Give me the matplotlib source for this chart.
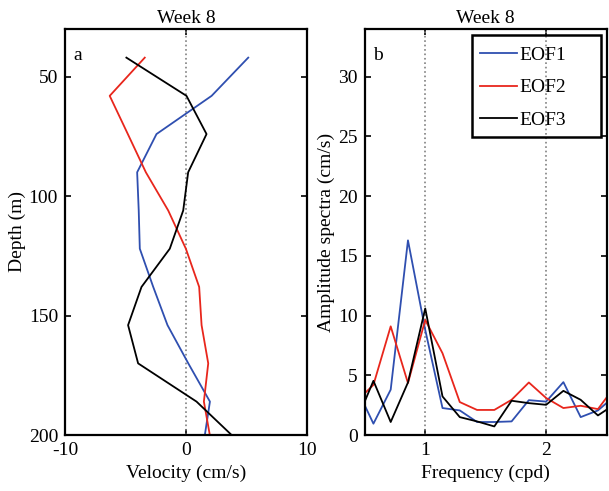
import numpy as np
import matplotlib
matplotlib.use('Agg')
from matplotlib import pyplot as plt
from matplotlib.patches import Rectangle

plt.rcParams['font.family'] = 'Liberation Serif'
plt.rcParams['font.size'] = 14
plt.rcParams['axes.unicode_minus'] = False

# profiles (panel a)
depth = [42, 58, 74, 90, 106, 122, 138, 154, 170, 186, 202]
eof1_v = [5.16, 2.13, -2.43, -4.03, -3.9, -3.81, -2.7, -1.52, 0.2, 1.99, 1.51]
eof2_v = [-3.4, -6.3, -4.8, -3.31, -1.46, 0.0, 1.1, 1.3, 1.85, 1.49, 2.05]
eof3_v = [-4.92, 0.05, 1.71, 0.19, -0.22, -1.33, -3.67, -4.78, -3.95, 0.88, 4.2]

# spectra (panel b), frequency k/7 cpd
freq = np.arange(3, 19) / 7.0
eof1_s = [4.0, 0.95, 3.8, 16.3, 8.8, 2.26, 2.06, 1.09, 1.09, 1.14, 2.92, 2.8, 4.43, 1.5, 2.06, 3.3]
eof2_s = [2.8, 4.2, 9.1, 4.35, 9.64, 6.85, 2.76, 2.1, 2.1, 2.95, 4.4, 3.1, 2.26, 2.45, 2.17, 4.1]
eof3_s = [1.1, 4.54, 1.09, 4.4, 10.6, 3.23, 1.5, 1.14, 0.72, 2.87, 2.67, 2.53, 3.7, 2.95, 1.64, 2.6]

blue = '#2f4fb0'
red = '#e8261c'
black = 'k'

fig = plt.figure(figsize=(6.09, 4.91), dpi=100)

#panel a
ax1 = fig.add_axes([0.1067, 0.114, 0.397, 0.827])
ax1.axvline(0, color='gray', ls=':', lw=1.2)
ax1.plot(eof1_v, depth, color=blue, lw=1.3)
ax1.plot(eof2_v, depth, color=red, lw=1.3)
ax1.plot(eof3_v, depth, color=black, lw=1.3)
ax1.set_xlim(-10, 10)
ax1.set_ylim(200, 30)
ax1.set_xticks([-10, 0, 10])
ax1.set_yticks([50, 100, 150, 200])
ax1.set_xlabel('Velocity (cm/s)', labelpad=4)
ax1.set_ylabel('Depth (m)', labelpad=2)
ax1.set_title('Week 8', fontsize=14, pad=4)
ax1.text(0.035, 0.955, 'a', transform=ax1.transAxes, va='top', ha='left')

#panel b
ax2 = fig.add_axes([0.599, 0.114, 0.397, 0.827])
ax2.axvline(1, color='gray', ls=':', lw=1.2)
ax2.axvline(2, color='gray', ls=':', lw=1.2)
ax2.plot(freq, eof1_s, color=blue, lw=1.3, label='EOF1')
ax2.plot(freq, eof2_s, color=red, lw=1.3, label='EOF2')
ax2.plot(freq, eof3_s, color=black, lw=1.3, label='EOF3')
ax2.set_xlim(0.5, 2.5)
ax2.set_ylim(0, 34)
ax2.set_xticks([1, 2])
ax2.set_yticks([0, 5, 10, 15, 20, 25, 30])
ax2.set_xlabel('Frequency (cpd)', labelpad=4)
ax2.set_ylabel('Amplitude spectra (cm/s)', labelpad=2)
ax2.set_title('Week 8', fontsize=14, pad=4)
ax2.text(0.035, 0.955, 'b', transform=ax2.transAxes, va='top', ha='left')
# matlab style legend: box drawn separately
ax2.legend(loc='upper left', bbox_to_anchor=(0.475, 0.958), frameon=False,
           handlelength=1.9, borderpad=0, borderaxespad=0, labelspacing=0.78,
           handletextpad=0.15, fontsize=14)
ax2.add_patch(Rectangle((0.442, 0.734), 0.533, 0.251, transform=ax2.transAxes,
                        fill=False, ec='k', lw=1.8, zorder=5))

for ax in (ax1, ax2):
    for s in ax.spines.values():
        s.set_linewidth(1.6)
    ax.tick_params(direction='in', top=True, right=True, length=4, width=1.2, pad=5)

fig.savefig('out.png', dpi=100)
